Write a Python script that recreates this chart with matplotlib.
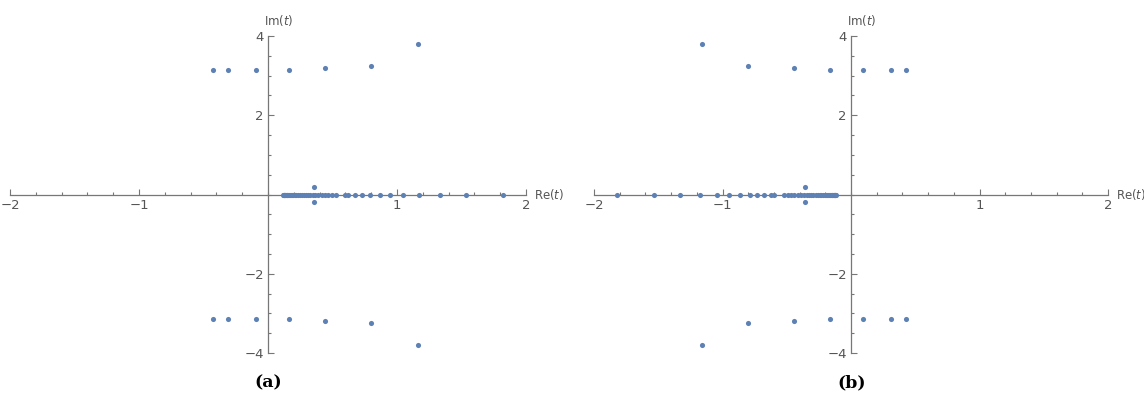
import numpy as np
import matplotlib
matplotlib.use('Agg')
import matplotlib.pyplot as plt
from matplotlib.ticker import MultipleLocator

plt.rcParams['mathtext.fontset'] = 'dejavusans'

# complex roots; upper half, conjugates are mirrored
upper_re = [-0.43, -0.31, -0.09, 0.16, 0.44, 0.80, 1.16]
upper_im = [3.15, 3.15, 3.15, 3.15, 3.19, 3.25, 3.80]
# small pair near the real axis
near_re = [0.36]
near_im = [0.18]
# roots on the real axis
real_re = [0.118, 0.121, 0.124, 0.127, 0.131, 0.135, 0.139, 0.144, 0.149,
           0.155, 0.161, 0.168, 0.176, 0.185, 0.195, 0.206, 0.218, 0.231,
           0.245, 0.260, 0.276, 0.293, 0.310, 0.328, 0.346, 0.365, 0.390,
           0.416, 0.442, 0.468, 0.494, 0.525, 0.598, 0.624, 0.676, 0.728,
           0.787, 0.865, 0.949, 1.044, 1.174, 1.333, 1.533, 1.820]

xticks = [-2, -1, 1, 2]
yticks = [-4, -2, 2, 4]
captions = ['(a)', '(b)']

dot = '#5E81B5'
axcol = '#777777'
labcol = '#555555'


def points(sign):
    xs = np.concatenate([upper_re, upper_re, near_re, near_re, real_re]) * sign
    ys = np.concatenate([upper_im, -np.array(upper_im), near_im,
                         -np.array(near_im), np.zeros(len(real_re))])
    return xs, ys


fig = plt.figure(figsize=(11.44, 4.01), dpi=100)
boxes = [[10 / 1144, 48 / 401, 516 / 1144, 317 / 401],
         [594 / 1144, 48 / 401, 514 / 1144, 317 / 401]]
cap_x = [268 / 1144, 852 / 1144]

for i, (box, sign) in enumerate(zip(boxes, [1, -1])):
    ax = fig.add_axes(box)
    xs, ys = points(sign)
    ax.plot(xs, ys, 'o', color=dot, markersize=3.7, markeredgewidth=0,
            clip_on=False, zorder=3)
    ax.set_xlim(-2, 2)
    ax.set_ylim(-4, 4)
    for s in ['top', 'right']:
        ax.spines[s].set_visible(False)
    for s in ['left', 'bottom']:
        ax.spines[s].set_position(('data', 0))
        ax.spines[s].set_color(axcol)
        ax.spines[s].set_linewidth(0.9)
    ax.set_xticks(xticks)
    ax.set_xticklabels(['\u22122', '\u22121', '1', '2'])
    ax.set_yticks(yticks)
    ax.set_yticklabels(['\u22124', '\u22122', '2', '4'])
    ax.xaxis.set_minor_locator(MultipleLocator(0.2))
    ax.yaxis.set_minor_locator(MultipleLocator(0.5))
    ax.tick_params(which='both', direction='in', color=axcol, labelcolor=labcol,
                   labelsize=9.5, width=0.8)
    ax.tick_params(which='major', length=4.5, pad=3)
    ax.tick_params(which='minor', length=2.5)
    ax.patch.set_visible(False)
    ax.text(2.06, 0, 'Re($t$)', color=labcol, fontsize=8.5, ha='left',
            va='center', clip_on=False)
    ax.text(-0.03, 4.4, 'Im($t$)', color=labcol, fontsize=8.5, ha='left',
            va='center', clip_on=False)
    fig.text(cap_x[i], 1 - 383 / 401, captions[i], ha='center', va='center',
             fontsize=12.5, family='DejaVu Serif', weight='bold')

fig.savefig('out.png', dpi=100)
